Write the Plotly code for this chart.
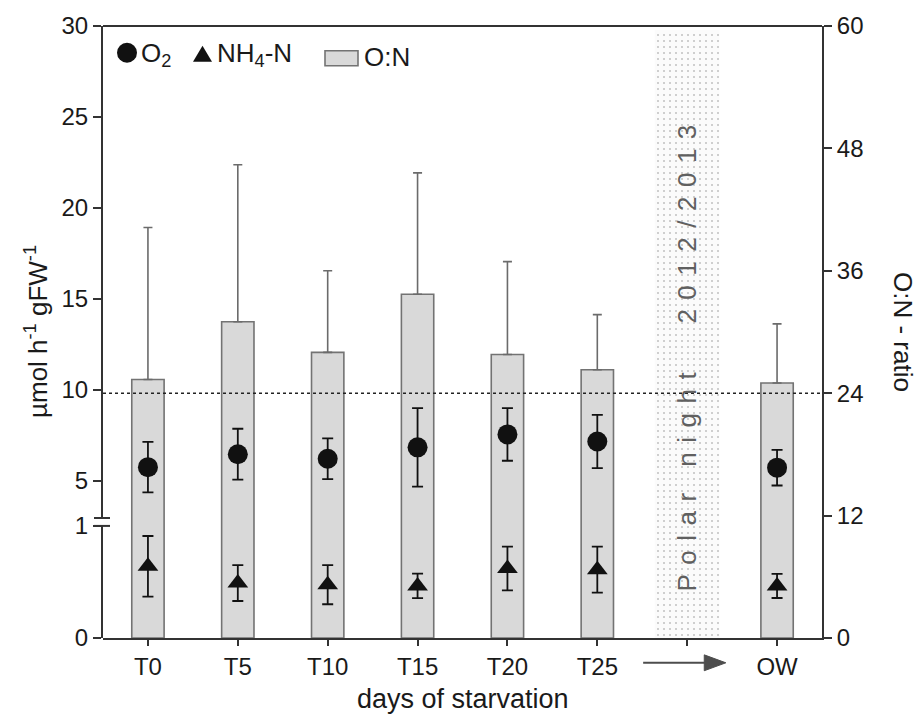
import plotly.graph_objects as go

# ---------------- data ----------------
categories = ["T0", "T5", "T10", "T15", "T20", "T25", "PN", "OW"]
tick_text = ["T0", "T5", "T10", "T15", "T20", "T25", "", "OW"]
groups = ["T0", "T5", "T10", "T15", "T20", "T25", "OW"]

on_ratio = [25.35, 31.0, 28.0, 33.7, 27.8, 26.3, 25.0]
on_ratio_err = [14.9, 15.4, 8.0, 11.9, 9.1, 5.4, 5.8]

o2 = [5.74, 6.45, 6.20, 6.83, 7.54, 7.15, 5.71]
o2_err = [1.39, 1.40, 1.12, 2.16, 1.45, 1.46, 0.98]

nh4 = [0.64, 0.49, 0.476, 0.465, 0.62, 0.61, 0.465]
nh4_err = [0.27, 0.16, 0.175, 0.11, 0.195, 0.205, 0.108]

polar_label = ["PN"]
polar_height = [59.6]
ratio_ref = 24

left_ticks_upper = [5, 10, 15, 20, 25, 30]
left_ticks_lower = [0, 1]
right_ticks = [0, 12, 24, 36, 48, 60]

# ---------------- layout helpers ----------------
L, R, T, B = 103, 822, 21, 638
W_PLOT, H_PLOT = R - L, B - T
def px(x):
    return (x - L) / W_PLOT
def py(y):
    return (B - y) / H_PLOT

AX = "#333333"
TXT = "#1a1a1a"
FONT = "Liberation Sans, Arial, sans-serif"

fig = go.Figure()

# polar night shaded band (patterned bar on ratio axis)
fig.add_trace(go.Bar(
    x=polar_label, y=polar_height, yaxis="y", width=0.72,
    marker=dict(color="white", line=dict(width=0),
                pattern=dict(shape=".", size=6, solidity=0.1,
                             fgcolor="#8c8c8c", bgcolor="#fbfbfb", fillmode="overlay")),
    showlegend=False, hoverinfo="skip"))

# O:N ratio bars
fig.add_trace(go.Bar(
    x=groups, y=on_ratio, yaxis="y", width=0.36,
    marker=dict(color="#d9d9d9", line=dict(color="#737373", width=1.6)),
    error_y=dict(type="data", array=on_ratio_err, arrayminus=[0] * len(groups),
                 symmetric=False, color="#6b6b6b", thickness=1.6, width=4.5),
    showlegend=False, name="O:N"))

# O2 points (upper segment)
fig.add_trace(go.Scatter(
    x=groups, y=o2, yaxis="y2", mode="markers",
    marker=dict(symbol="circle", size=20, color="#111111"),
    error_y=dict(type="data", array=o2_err, color="#111111", thickness=1.8, width=5.5),
    showlegend=False, name="O2"))

# NH4-N points (lower segment)
fig.add_trace(go.Scatter(
    x=groups, y=nh4, yaxis="y3", mode="markers",
    marker=dict(symbol="triangle-up", size=18, color="#111111"),
    error_y=dict(type="data", array=nh4_err, color="#111111", thickness=1.8, width=5.5),
    showlegend=False, name="NH4-N"))

tickfont = dict(family=FONT, size=24, color=TXT)

fig.update_layout(
    width=924, height=720,
    margin=dict(l=L, r=924 - R, t=T, b=720 - B),
    paper_bgcolor="white", plot_bgcolor="rgba(0,0,0,0)",
    barmode="overlay", showlegend=False,
    font=dict(family=FONT, color=TXT),
    xaxis=dict(type="category", categoryorder="array", categoryarray=categories,
               tickvals=categories, ticktext=tick_text, range=[-0.5, 7.5],
               showline=True, linecolor=AX, linewidth=2, ticks="outside",
               ticklen=6, tickwidth=1.5, tickcolor=AX, tickfont=tickfont,
               showgrid=False, zeroline=False),
    yaxis=dict(domain=[0, 1], range=[0, 60], side="right", anchor="x",
               tickvals=right_ticks, showline=True, linecolor=AX, linewidth=2,
               ticks="outside", ticklen=8, tickwidth=1.5, tickcolor=AX,
               tickfont=tickfont, showgrid=False, zeroline=False),
    yaxis2=dict(domain=[py(517), 1], range=[5 - (517 - 479.3) / 18.332, 30],
                side="left", anchor="x", tickvals=left_ticks_upper,
                showline=True, linecolor=AX, linewidth=2, ticks="outside",
                ticklen=8, tickwidth=1.5, tickcolor=AX, tickfont=tickfont,
                showgrid=False, zeroline=False),
    yaxis3=dict(domain=[0, py(525)], range=[0, 1], side="left", anchor="x",
                tickvals=left_ticks_lower, showline=True, linecolor=AX,
                linewidth=2, ticks="outside", ticklen=8, tickwidth=1.5,
                tickcolor=AX, tickfont=tickfont, showgrid=False, zeroline=False),
)

shapes = []
# top frame line
shapes.append(dict(type="line", xref="paper", yref="paper", x0=0, x1=1, y0=1, y1=1,
                   line=dict(color=AX, width=2)))
# reference dotted line at O:N = 24
shapes.append(dict(type="line", xref="paper", yref="y", x0=0, x1=1, y0=ratio_ref, y1=ratio_ref,
                   line=dict(color="#222222", width=1.6, dash="dot"), layer="above"))
# axis break marks
for yy in (517, 525):
    shapes.append(dict(type="line", xref="paper", yref="paper", x0=px(94), x1=px(110),
                       y0=py(yy), y1=py(yy), line=dict(color=AX, width=2)))
# arrow T25 -> OW below axis
ay = py(663)
shapes.append(dict(type="line", xref="x", yref="paper", x0=5.51, x1=6.25, y0=ay, y1=ay,
                   line=dict(color="#4d4d4d", width=2)))
shapes.append(dict(type="path", xref="x", yref="paper",
                   path=f"M 6.19,{py(655)} L 6.43,{ay} L 6.19,{py(671)} Z",
                   fillcolor="#4d4d4d", line=dict(color="#4d4d4d", width=1)))
# legend symbols
shapes.append(dict(type="circle", xref="paper", yref="paper", x0=px(117), x1=px(137),
                   y0=py(58), y1=py(38), fillcolor="#111111", line=dict(color="#111111", width=0)))
shapes.append(dict(type="path", xref="paper", yref="paper",
                   path=f"M {px(193)},{py(57)} L {px(212)},{py(57)} L {px(202.5)},{py(41)} Z",
                   fillcolor="#111111", line=dict(color="#111111", width=0)))
shapes.append(dict(type="rect", xref="paper", yref="paper", x0=px(325), x1=px(358),
                   y0=py(61), y1=py(46), fillcolor="#d9d9d9", line=dict(color="#737373", width=1.6)))
fig.update_layout(shapes=shapes)

polar_text = ("<span style='letter-spacing:9.5px'>Polar night\u2002 2012/2013</span>")

annotations = [
    dict(text="µmol h<sup>-1</sup> gFW<sup>-1</sup>", xref="paper", yref="paper",
         x=px(36), y=0.5, textangle=-90, showarrow=False, xanchor="center", yanchor="middle",
         font=dict(family=FONT, size=26, color=TXT)),
    dict(text="O:N - ratio", xref="paper", yref="paper", x=px(903), y=0.5, textangle=90,
         showarrow=False, xanchor="center", yanchor="middle",
         font=dict(family=FONT, size=26, color=TXT)),
    dict(text="days of starvation", xref="paper", yref="paper", x=0.5, y=py(700),
         showarrow=False, xanchor="center", yanchor="middle",
         font=dict(family=FONT, size=27, color=TXT)),
    dict(text=polar_text, xref="x", yref="y", x=6, y=27.9, textangle=-90, showarrow=False,
         xanchor="center", yanchor="middle", font=dict(family=FONT, size=26, color="#606060")),
    dict(text="O<sub>2</sub>", xref="paper", yref="paper", x=px(139), y=py(50),
         showarrow=False, xanchor="left", yanchor="middle",
         font=dict(family=FONT, size=26, color=TXT)),
    dict(text="NH<sub>4</sub>-N", xref="paper", yref="paper", x=px(215), y=py(50),
         showarrow=False, xanchor="left", yanchor="middle",
         font=dict(family=FONT, size=26, color=TXT)),
    dict(text="O:N", xref="paper", yref="paper", x=px(362), y=py(52),
         showarrow=False, xanchor="left", yanchor="middle",
         font=dict(family=FONT, size=26, color=TXT)),
]
fig.update_layout(annotations=annotations)

fig.write_html("out.html")
